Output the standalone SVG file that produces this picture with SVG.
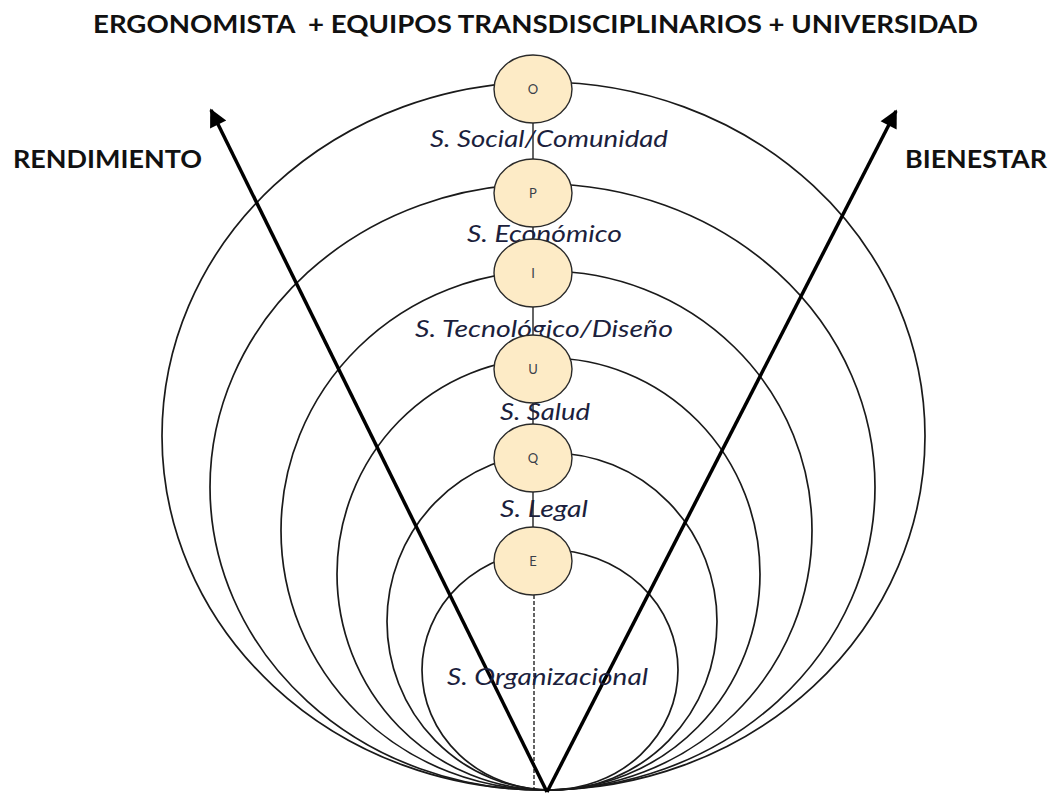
<svg xmlns="http://www.w3.org/2000/svg" width="1053" height="796" viewBox="0 0 1053 796">
<defs>
<style>
.ring{fill:none;stroke:#1a1a1a;stroke-width:1.7}
.arrow{fill:none;stroke:#000;stroke-width:3.5}
.node{fill:#fdebc6;stroke:#2a2a2a;stroke-width:1.4}
.letter{font-family:Lato,"Liberation Sans",sans-serif;font-size:13px;fill:#3a3f4a;text-anchor:middle}
.lbl{font-family:Lato,"Liberation Sans",sans-serif;font-style:italic;font-size:24px;fill:#1c1f3d}
.head{font-family:Lato,"Liberation Sans",sans-serif;font-weight:bold;font-size:25px;fill:#111}
</style>
<marker id="ah" viewBox="0 0 10 10" refX="9" refY="5" markerUnits="userSpaceOnUse" markerWidth="22" markerHeight="18" orient="auto">
<path d="M0,0 L10,5 L0,10 z" fill="#000"/>
</marker>
</defs>
<rect width="1053" height="796" fill="#fff"/>
<g id="rings">
<ellipse class="ring" cx="543.5" cy="436" rx="381.5" ry="354"/>
<ellipse class="ring" cx="542.5" cy="487" rx="332.5" ry="303"/>
<ellipse class="ring" cx="546.5" cy="530.5" rx="265.5" ry="259.5"/>
<ellipse class="ring" cx="548.5" cy="574" rx="211.5" ry="216"/>
<ellipse class="ring" cx="552" cy="621.5" rx="165" ry="168.5"/>
<ellipse class="ring" cx="550" cy="670" rx="128" ry="120"/>
</g>
<g id="connectors">
<line x1="533" y1="123" x2="533" y2="527" stroke="#111" stroke-width="1.3"/>
<line x1="534" y1="595" x2="534" y2="790" stroke="#111" stroke-width="1.3" stroke-dasharray="4,2"/>
<line class="arrow" x1="547" y1="792" x2="211" y2="110" marker-end="url(#ah)"/>
<line class="arrow" x1="547" y1="792" x2="896" y2="111" marker-end="url(#ah)"/>
</g>
<g id="title"><text class="head" x="93" y="33" textLength="885" lengthAdjust="spacingAndGlyphs" xml:space="preserve">ERGONOMISTA  + EQUIPOS TRANSDISCIPLINARIOS + UNIVERSIDAD</text></g>
<g id="rendimiento"><text class="head" x="13" y="168" textLength="189" lengthAdjust="spacingAndGlyphs">RENDIMIENTO</text></g>
<g id="bienestar"><text class="head" x="905" y="168" textLength="142" lengthAdjust="spacingAndGlyphs">BIENESTAR</text></g>
<g id="labels">
<text class="lbl" x="430" y="147" textLength="238" lengthAdjust="spacingAndGlyphs">S. Social/Comunidad</text>
<text class="lbl" x="467" y="242" textLength="155" lengthAdjust="spacingAndGlyphs">S. Económico</text>
<text class="lbl" x="415" y="337" textLength="258" lengthAdjust="spacingAndGlyphs">S. Tecnológico/Diseño</text>
<text class="lbl" x="500" y="420" textLength="90" lengthAdjust="spacingAndGlyphs">S. Salud</text>
<text class="lbl" x="500" y="517" textLength="88" lengthAdjust="spacingAndGlyphs">S. Legal</text>
<text class="lbl" x="447" y="685" textLength="201" lengthAdjust="spacingAndGlyphs">S. Organizacional</text>
</g>
<g id="node-O"><ellipse class="node" cx="533" cy="89" rx="39" ry="34"/><text class="letter" x="533" y="94">O</text></g>
<g id="node-P"><ellipse class="node" cx="533" cy="193" rx="39" ry="34"/><text class="letter" x="533" y="198">P</text></g>
<g id="node-I"><ellipse class="node" cx="533" cy="273" rx="39" ry="34"/><text class="letter" x="533" y="278">I</text></g>
<g id="node-U"><ellipse class="node" cx="533" cy="369" rx="39" ry="34"/><text class="letter" x="533" y="374">U</text></g>
<g id="node-Q"><ellipse class="node" cx="533" cy="458" rx="39" ry="34"/><text class="letter" x="533" y="463">Q</text></g>
<g id="node-E"><ellipse class="node" cx="533" cy="561" rx="39" ry="34"/><text class="letter" x="533" y="566">E</text></g>
</svg>
